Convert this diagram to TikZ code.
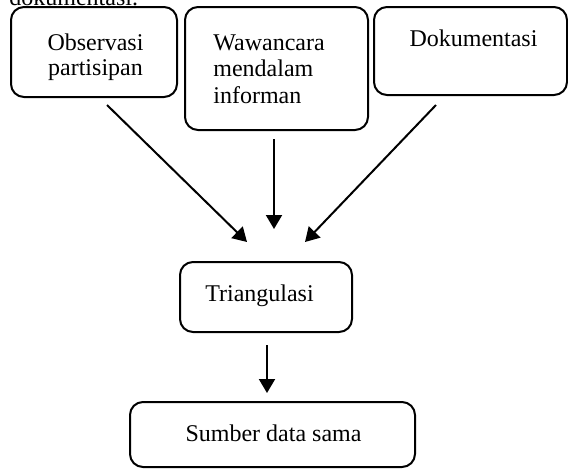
\documentclass[tikz,border=0pt]{standalone}
\usepackage{fontspec}
\setmainfont{Liberation Serif}
\usetikzlibrary{arrows.meta}
\begin{document}
\begin{tikzpicture}[x=0.5pt,y=-0.5pt,
  box/.style={draw, line width=1pt, rounded corners=6.5pt, inner sep=0pt},
  txt/.style={inner sep=0pt, font=\fontsize{12}{13}\selectfont},
  arr/.style={line width=1pt, -{Triangle[length=7pt,width=8pt]}}]
\useasboundingbox (0,0) rectangle (568,468);
\clip (0,0) rectangle (568,468);
% boxes
\node[box, minimum width=83pt, minimum height=45pt] (b1) at (94,52) {};
\node[box, minimum width=91.5pt, minimum height=61.5pt] (b2) at (276.5,68.5) {};
\node[box, minimum width=96.5pt, minimum height=44pt] (b3) at (470.5,51) {};
\node[box, minimum width=86pt, minimum height=35pt] (b4) at (266,297) {};
\node[box, minimum width=142.5pt, minimum height=32.5pt] (b5) at (272.5,434.5) {};
% texts
\node[txt, anchor=base west] (top) at (9,5) {dokumentasi.};
\node[txt, font=\fontsize{12}{12.5}\selectfont, anchor=base, text width=60pt, align=center] (t1) at (95.5,50) {Observasi\\partisipan};
\node[txt, font=\fontsize{12}{13.25}\selectfont, anchor=base west, text width=60pt, align=left] (t2) at (213,50) {Wawancara\\mendalam\\informan};
\node[txt, anchor=base] (t3) at (473.5,46) {Dokumentasi};
\node[txt, anchor=base] (t4) at (259.5,301) {Triangulasi};
\node[txt, anchor=base] (t5) at (273.5,441) {Sumber data sama};
% arrow end points
\coordinate (a1s) at (107,105);
\coordinate (a1e) at (247,242);
\coordinate (a2s) at (274,139);
\coordinate (a2e) at (274,229);
\coordinate (a3s) at (436,105);
\coordinate (a3e) at (305,242);
\coordinate (a4s) at (267,345);
\coordinate (a4e) at (267,393);
\draw[arr] (a1s) -- (a1e);
\draw[arr] (a2s) -- (a2e);
\draw[arr] (a3s) -- (a3e);
\draw[arr] (a4s) -- (a4e);
\end{tikzpicture}
\end{document}
